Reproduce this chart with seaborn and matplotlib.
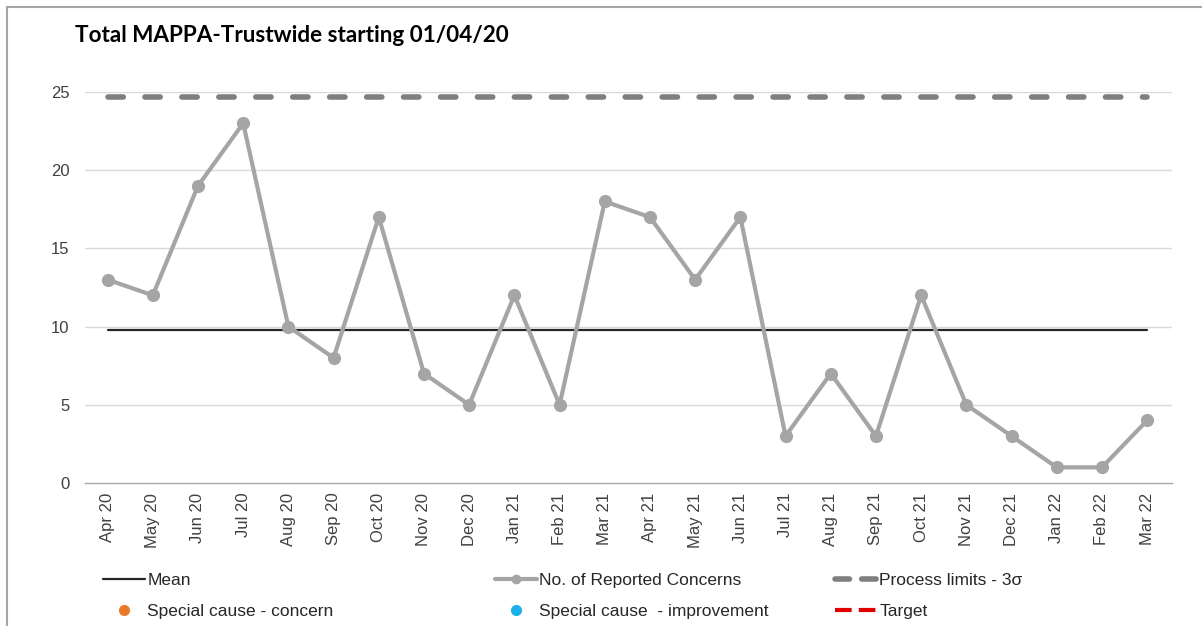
import matplotlib
matplotlib.use("Agg")
import matplotlib.pyplot as plt
from matplotlib.lines import Line2D
from matplotlib.patches import Rectangle
import numpy as np
import pandas as pd
import seaborn as sns

# Monthly counts of reported concerns
months = ["Apr 20", "May 20", "Jun 20", "Jul 20", "Aug 20", "Sep 20", "Oct 20", "Nov 20",
          "Dec 20", "Jan 21", "Feb 21", "Mar 21", "Apr 21", "May 21", "Jun 21", "Jul 21",
          "Aug 21", "Sep 21", "Oct 21", "Nov 21", "Dec 21", "Jan 22", "Feb 22", "Mar 22"]
concerns = [13, 12, 19, 23, 10, 8, 17, 7, 5, 12, 5, 18, 17, 13, 17, 3, 7, 3, 12, 5, 3, 1, 1, 4]
mean_value = 9.79
upper_limit = 24.7
y_ticks = [0, 5, 10, 15, 20, 25]
title = "Total MAPPA-Trustwide starting 01/04/20"

sns.set_theme(style="white")
plt.rcParams["font.family"] = ["Liberation Sans", "DejaVu Sans"]

df = pd.DataFrame({"pos": np.arange(len(months)), "month": months, "value": concerns})

W, H = 1202, 626
fig = plt.figure(figsize=(W / 100, H / 100), dpi=100)
ax = fig.add_axes([85 / W, 1 - 483 / H, 1087 / W, (483 - 92) / H])

# outer frame (top and left edges visible)
fig.add_artist(Rectangle((7 / W, -0.1), 1.2, 1 - 7 / H + 0.1, transform=fig.transFigure,
                         fill=False, edgecolor="#A6A6A6", linewidth=1.5))

for y in y_ticks[1:]:
    ax.axhline(y, color="#D9D9D9", linewidth=1, zorder=0)

pos = df["pos"].to_numpy()
ax.plot(pos, np.full(len(pos), upper_limit), color="#7F7F7F", linewidth=4,
        linestyle=(0, (2.75, 3.9)), dash_capstyle="round", zorder=2)
ax.plot(pos, np.full(len(pos), mean_value), color="#262626", linewidth=1.6, zorder=2)

sns.lineplot(data=df, x="pos", y="value", ax=ax, color="#A5A5A5", linewidth=3,
             marker="o", markersize=9.5, markeredgewidth=0, zorder=3)

ax.set_xlim(-0.5, 23.55)
ax.set_ylim(0, 25)
ax.set_xticks(pos)
ax.set_xticklabels(months, rotation=90, fontsize=12, color="#404040")
ax.set_yticks(y_ticks)
ax.set_yticklabels([str(t) for t in y_ticks], fontsize=12, color="#404040")
ax.tick_params(axis="x", length=0, pad=7)
ax.tick_params(axis="y", length=0, pad=11)
ax.set_xlabel("")
ax.set_ylabel("")
for side in ["top", "right", "left"]:
    ax.spines[side].set_visible(False)
ax.spines["bottom"].set_color("#A6A6A6")
ax.spines["bottom"].set_linewidth(1)

fig.text(75 / W, 1 - 36 / H, title, fontsize=16.2, fontweight="bold",
         family=["Lato", "DejaVu Sans"], va="center", ha="left", color="#000000")

handles = [
    Line2D([], [], color="#262626", linewidth=1.6),
    Line2D([], [], color="#E97A2A", linestyle="none", marker="o", markersize=7),
    Line2D([], [], color="#A5A5A5", linewidth=3, marker="o", markersize=7, markeredgewidth=0),
    Line2D([], [], color="#1CB0E8", linestyle="none", marker="o", markersize=7),
    Line2D([], [], color="#7F7F7F", linewidth=4, linestyle=(0, (2.6, 2.2)), dash_capstyle="round"),
    Line2D([], [], color="#E00000", linewidth=3, linestyle=(0, (4, 1.7))),
]
labels = ["Mean", "Special cause - concern",
          "No. of Reported Concerns", "Special cause  - improvement",
          "Process limits - 3σ", "Target"]
# one legend per column, two entries each
col_x = [103, 495, 835]
for c, x0 in enumerate(col_x):
    leg = fig.legend(handles[2 * c:2 * c + 2], labels[2 * c:2 * c + 2],
                     loc="center left", bbox_to_anchor=(x0 / W, 1 - 596 / H),
                     borderaxespad=0, borderpad=0, frameon=False, fontsize=12.5,
                     handlelength=2.4, handletextpad=0.15, labelspacing=0.95)
    for t in leg.get_texts():
        t.set_color("#262626")

fig.savefig("out.png", dpi=100)
